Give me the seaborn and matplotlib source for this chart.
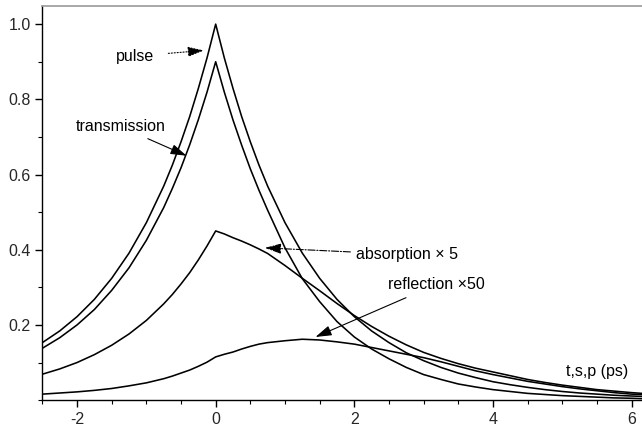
import numpy as np
import pandas as pd
import seaborn as sns
import matplotlib.pyplot as plt
from matplotlib.ticker import MultipleLocator

# time axis (ps) and curves
t = [-2.5, -2.25, -2.0, -1.75, -1.5, -1.25, -1.0, -0.75, -0.625, -0.5, -0.375,
     -0.25, -0.125, 0.0, 0.125, 0.25, 0.375, 0.5, 0.625, 0.75, 1.0, 1.25, 1.5,
     1.75, 2.0, 2.25, 2.5, 2.75, 3.0, 3.25, 3.5, 3.75, 4.0, 4.25, 4.5, 4.75,
     5.0, 5.25, 5.5, 5.75, 6.0, 6.15]
pulse = [0.153, 0.184, 0.222, 0.268, 0.324, 0.391, 0.472, 0.569, 0.625, 0.687,
         0.754, 0.829, 0.910, 1.0, 0.910, 0.829, 0.754, 0.687, 0.625, 0.569,
         0.472, 0.391, 0.324, 0.268, 0.222, 0.184, 0.153, 0.126, 0.105, 0.087,
         0.072, 0.060, 0.049, 0.041, 0.034, 0.028, 0.023, 0.019, 0.016, 0.013,
         0.011, 0.010]
transmission = [0.138, 0.166, 0.200, 0.241, 0.292, 0.352, 0.425, 0.512, 0.563,
                0.618, 0.679, 0.746, 0.819, 0.90, 0.819, 0.745, 0.678, 0.615,
                0.558, 0.505, 0.405, 0.323, 0.262, 0.209, 0.168, 0.136, 0.110,
                0.087, 0.068, 0.055, 0.043, 0.035, 0.028, 0.023, 0.018, 0.015,
                0.012, 0.010, 0.008, 0.006, 0.005, 0.004]
absorption = [0.069, 0.083, 0.100, 0.121, 0.146, 0.176, 0.212, 0.256, 0.281,
              0.309, 0.339, 0.373, 0.410, 0.45, 0.442, 0.432, 0.423, 0.413,
              0.402, 0.390, 0.358, 0.324, 0.291, 0.257, 0.225, 0.196, 0.170,
              0.147, 0.127, 0.111, 0.097, 0.085, 0.075, 0.065, 0.055, 0.047,
              0.040, 0.034, 0.028, 0.024, 0.020, 0.018]
reflection = [0.016, 0.019, 0.022, 0.026, 0.031, 0.038, 0.046, 0.057, 0.064,
              0.072, 0.080, 0.090, 0.101, 0.115, 0.122, 0.128, 0.136, 0.143,
              0.149, 0.153, 0.158, 0.162, 0.160, 0.155, 0.149, 0.140, 0.131,
              0.122, 0.113, 0.102, 0.090, 0.078, 0.068, 0.059, 0.050, 0.043,
              0.036, 0.030, 0.025, 0.020, 0.016, 0.015]

df = pd.DataFrame({"t": t, "pulse": pulse, "transmission": transmission,
                   "absorption": absorption, "reflection": reflection})

sns.set_style("ticks")
plt.rcParams["font.family"] = ["Liberation Sans", "DejaVu Sans"]

fig = plt.figure(figsize=(6.42, 4.34), dpi=100)
ax = fig.add_axes([0.066, 0.078, 0.934, 0.908])

for col in ["pulse", "transmission", "absorption", "reflection"]:
    sns.lineplot(data=df, x="t", y=col, ax=ax, color="black", linewidth=1.15)

ax.set_xlim(-2.5, 6.15)
ax.set_ylim(0, 1.048)
ax.set_xlabel("")
ax.set_ylabel("")
ax.set_xticks([-2, 0, 2, 4, 6])
ax.set_xticklabels(["-2", "0", "2", "4", "6"])
ax.set_yticks([0.2, 0.4, 0.6, 0.8, 1.0])
ax.xaxis.set_minor_locator(MultipleLocator(0.5))
ax.yaxis.set_minor_locator(MultipleLocator(0.1))
ax.tick_params(which="major", length=5, width=1, labelsize=11.5, color="black")
ax.tick_params(which="minor", length=3, width=0.8, color="black")

ax.spines["right"].set_visible(False)
ax.spines["top"].set_color("#999999")
ax.spines["top"].set_linewidth(1.2)
for s in ["left", "bottom"]:
    ax.spines[s].set_color("black")
    ax.spines[s].set_linewidth(1.0)

txt = dict(fontsize=11.5, color="black")
head = "-|>,head_length=0.7,head_width=0.22"
ax.annotate("pulse", xy=(-0.17, 0.93), xytext=(-0.89, 0.915), ha="right",
            va="center",
            arrowprops=dict(arrowstyle=head, linestyle=":", color="black",
                            lw=0.8, mutation_scale=14, shrinkA=8, shrinkB=0),
            **txt)
ax.annotate("transmission", xy=(-0.42, 0.65), xytext=(-0.72, 0.727),
            ha="right", va="center",
            arrowprops=dict(arrowstyle=head, color="black", lw=0.8,
                            mutation_scale=14, shrinkA=2, shrinkB=0),
            **txt)
ax.annotate("absorption \u00d7 5", xy=(0.71, 0.405), xytext=(2.03, 0.387),
            ha="left", va="center",
            arrowprops=dict(arrowstyle=head, linestyle="-.", color="black",
                            lw=0.8, mutation_scale=14, shrinkA=2, shrinkB=0),
            **txt)
ax.annotate("reflection \u00d750", xy=(1.44, 0.168), xytext=(2.48, 0.307),
            ha="left", va="center",
            arrowprops=dict(arrowstyle=head, color="black", lw=0.8,
                            mutation_scale=14, shrinkA=4, shrinkB=0),
            **txt)
ax.text(5.05, 0.077, "t,s,p (ps)", ha="left", va="center", **txt)

fig.savefig("out.png", dpi=100)
plt.close(fig)
